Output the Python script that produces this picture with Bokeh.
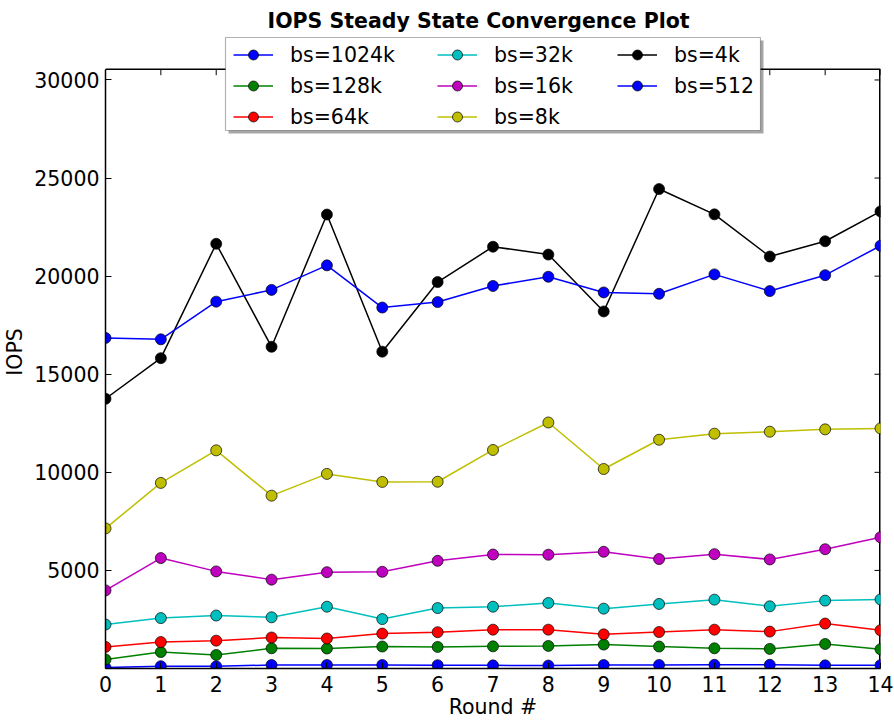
from bokeh.plotting import figure
from bokeh.models import Range1d, FixedTicker, Legend, LegendItem, BoxAnnotation
from bokeh.embed import file_html
from bokeh.resources import INLINE

# ---- data ----
rounds = list(range(15))
series_names = ["bs=1024k", "bs=128k", "bs=64k", "bs=32k", "bs=16k", "bs=8k", "bs=4k", "bs=512"]
series_colors = ["#0000ff", "#008000", "#ff0000", "#00bfbf", "#bf00bf", "#bfbf00", "#000000", "#0000ff"]

bs_1024k = [50, 120, 110, 180, 180, 180, 170, 160, 150, 180, 180, 190, 190, 160, 170]
bs_128k = [460, 840, 690, 1030, 1020, 1120, 1100, 1130, 1150, 1220, 1120, 1030, 1000, 1250, 980]
bs_64k = [1100, 1350, 1420, 1580, 1530, 1780, 1850, 1980, 1980, 1740, 1860, 1980, 1880, 2290, 1950]
bs_32k = [2240, 2570, 2700, 2610, 3150, 2520, 3080, 3150, 3340, 3050, 3290, 3510, 3170, 3460, 3520]
bs_16k = [3980, 5630, 4950, 4530, 4910, 4930, 5490, 5810, 5800, 5950, 5580, 5830, 5560, 6080, 6690]
bs_8k = [7140, 9460, 11120, 8810, 9920, 9510, 9520, 11140, 12540, 10170, 11660, 11970, 12070, 12190, 12240]
bs_4k = [13750, 15820, 21650, 16400, 23140, 16150, 19700, 21500, 21100, 18200, 24440, 23150, 21000, 21780, 23300]
bs_512 = [16850, 16780, 18700, 19300, 20550, 18400, 18680, 19500, 19970, 19170, 19100, 20090, 19240, 20050, 21550]

x_ticks = list(range(15))
y_ticks = [5000, 10000, 15000, 20000, 25000, 30000]
x_min, x_max = 0, 14
y_min, y_top = 0, 30550          # axes box limits
y_view_top = 32267               # extra room above the axes box for the legend

series_values = [bs_1024k, bs_128k, bs_64k, bs_32k, bs_16k, bs_8k, bs_4k, bs_512]

FONT = "DejaVu Sans"
FS = "20.5px"

p = figure(width=894, height=722, output_backend="svg", toolbar_location=None,
           x_range=Range1d(x_min, x_max), y_range=Range1d(y_min, y_view_top),
           min_border_left=105, min_border_right=14, min_border_top=35, min_border_bottom=54,
           title="IOPS Steady State Convergence Plot")
p.background_fill_color = "white"
p.border_fill_color = "white"
p.grid.visible = False
p.outline_line_color = None

p.title.text_font = FONT
p.title.text_font_size = FS
p.title.text_font_style = "bold"
p.title.text_color = "black"
p.title.align = "left"
p.title.offset = 162
p.title.standoff = 6

def style_axis(ax):
    ax.major_tick_in = 6
    ax.major_tick_out = 0
    ax.minor_tick_line_color = None
    ax.major_tick_line_color = "black"
    ax.major_tick_line_width = 1
    ax.axis_line_color = "black"
    ax.axis_line_width = 1.5
    ax.major_label_text_font = FONT
    ax.major_label_text_font_size = FS
    ax.major_label_text_color = "black"
    ax.axis_label_text_font = FONT
    ax.axis_label_text_font_size = FS
    ax.axis_label_text_font_style = "normal"
    ax.axis_label_text_color = "black"

xa = p.xaxis[0]
xa.ticker = FixedTicker(ticks=x_ticks)
xa.axis_label = "Round #"
style_axis(xa)
xa.major_label_standoff = 7
xa.axis_label_standoff = 0

ya = p.yaxis[0]
ya.ticker = FixedTicker(ticks=y_ticks)
ya.axis_label = "IOPS"
style_axis(ya)
ya.bounds = (y_min, y_top)
ya.major_label_standoff = 6
ya.axis_label_standoff = 4

# remaining spines (top / right) and their inward ticks
tick_len = 6 * (y_view_top - y_min) / 633.0
x_tick_len = 6 * (x_max - x_min) / 775.0
p.segment(x0=[x_min], y0=[y_top], x1=[x_max], y1=[y_top], line_color="black", line_width=1.5)
p.segment(x0=[x_max], y0=[y_min], x1=[x_max], y1=[y_top], line_color="black", line_width=3)
p.segment(x0=x_ticks, y0=[y_top] * len(x_ticks), x1=x_ticks, y1=[y_top - tick_len] * len(x_ticks),
          line_color="black", line_width=1)
p.segment(x0=[x_max] * len(y_ticks), y0=y_ticks, x1=[x_max - x_tick_len] * len(y_ticks), y1=y_ticks,
          line_color="black", line_width=1)

renderers = []
for name, color, vals in zip(series_names, series_colors, series_values):
    ln = p.line(rounds, vals, line_color=color, line_width=1.5)
    sc = p.scatter(rounds, vals, size=11, fill_color=color, line_color="black", line_width=0.7)
    renderers.append((name, ln, sc))

# legend box + shadow (screen units, relative to frame bottom-left)
shadow = BoxAnnotation(left=123, right=658, top=628, bottom=535,
                       left_units="screen", right_units="screen", top_units="screen", bottom_units="screen",
                       fill_color="black", fill_alpha=0.35, line_alpha=0, level="annotation")
box = BoxAnnotation(left=120, right=655, top=631, bottom=538,
                    left_units="screen", right_units="screen", top_units="screen", bottom_units="screen",
                    fill_color="white", fill_alpha=1.0, line_color="black", line_width=1.2, level="annotation")
p.add_layout(shadow)
p.add_layout(box)

cols = [(renderers[0:3], 128, 539), (renderers[3:6], 332, 539), (renderers[6:8], 512, 570)]
for items, lx, ly in cols:
    leg = Legend(items=[LegendItem(label=n, renderers=[l, s]) for n, l, s in items],
                 location=(lx, ly), orientation="vertical", padding=0, margin=0, spacing=6,
                 label_height=25, glyph_height=25, glyph_width=40, label_standoff=17,
                 label_text_font=FONT, label_text_font_size=FS, label_text_color="black",
                 border_line_alpha=0, background_fill_alpha=0)
    p.add_layout(leg, "center")

open("out.html", "w").write(file_html(p, INLINE))
